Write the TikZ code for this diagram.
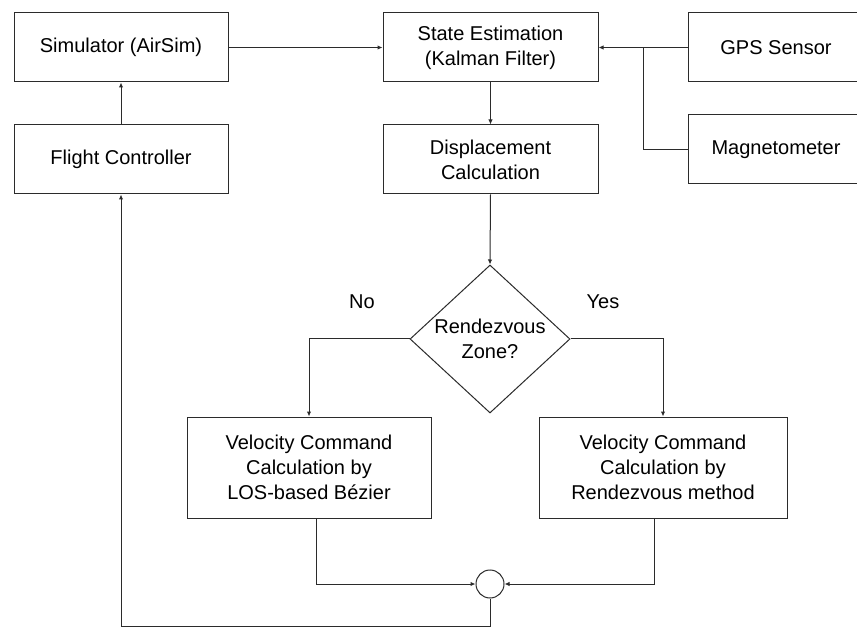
\documentclass[tikz,border=0pt]{standalone}
\usepackage{fontspec}
\setmainfont{Liberation Sans}
\usetikzlibrary{shapes.geometric,arrows.meta}
\definecolor{linec}{HTML}{2B2B2B}
\begin{document}
\begin{tikzpicture}[x=1pt,y=-1pt,
  txt/.style={inner sep=0pt, align=center, font=\fontsize{20}{25}\selectfont},
  box/.style={txt, draw=linec, line width=1pt, rectangle},
  ln/.style={draw=linec, line width=1pt},
  arr/.style={ln, -{Latex[length=5pt,width=4.5pt]}}]
\path[use as bounding box, clip] (0,0) rectangle (857,628);
\fill[white] (0,0) rectangle (857,628);
% boxes
\node[box, minimum width=214pt, minimum height=69pt] (sim) at (121,47.5) {Simulator (AirSim)};
\node[box, minimum width=214pt, minimum height=69pt] (fc) at (121,159.5) {Flight Controller};
\node[box, minimum width=215pt, minimum height=69pt] (se) at (490.5,47.5) {State Estimation\\(Kalman Filter)};
\node[box, minimum width=215pt, minimum height=69pt] (dc) at (490.5,159.5) {Displacement\\Calculation};
\node[box, minimum width=176pt, minimum height=69pt] (gps) at (776,47.5) {GPS Sensor};
\node[box, minimum width=176pt, minimum height=69pt] (mag) at (776,149.5) {Magnetometer};
\node[txt, draw=linec, line width=1pt, diamond, aspect=1.08, minimum width=160pt, minimum height=148pt] (dia) at (490,339) {Rendezvous\\Zone?};
\node[box, minimum width=244pt, minimum height=101pt] (lv) at (309,467.5) {Velocity Command\\Calculation by\\LOS-based B\'ezier};
\node[box, minimum width=248pt, minimum height=101pt] (rv) at (663,467.5) {Velocity Command\\Calculation by\\Rendezvous method};
\node[draw=linec, line width=1pt, circle, inner sep=0pt, minimum size=28pt] (c) at (490,584) {};
% labels
\node[txt] (no) at (362,302) {No};
\node[txt] (yes) at (603,302) {Yes};
% coordinates
\coordinate (j) at (643,47.5);
\coordinate (b) at (490,626);
% connectors
\draw[arr] (sim.east) -- (se.west);
\draw[arr] (gps.west) -- (se.east);
\draw[ln] (mag.west) -| (j);
\draw[arr] (se.south) -- (dc.north);
\draw[arr] (dc.south) -- (dia.north);
\draw[arr] (dia.west) -| (lv.north);
\draw[arr] (dia.east) -| (rv.north);
\draw[arr] ([xshift=7pt]lv.south) |- (c.west);
\draw[arr] ([xshift=-9pt]rv.south) |- (c.east);
\draw[arr] (c.south) -- (c.south |- b) -| (fc.south);
\draw[arr] (fc.north) -- (sim.south);
\end{tikzpicture}
\end{document}
